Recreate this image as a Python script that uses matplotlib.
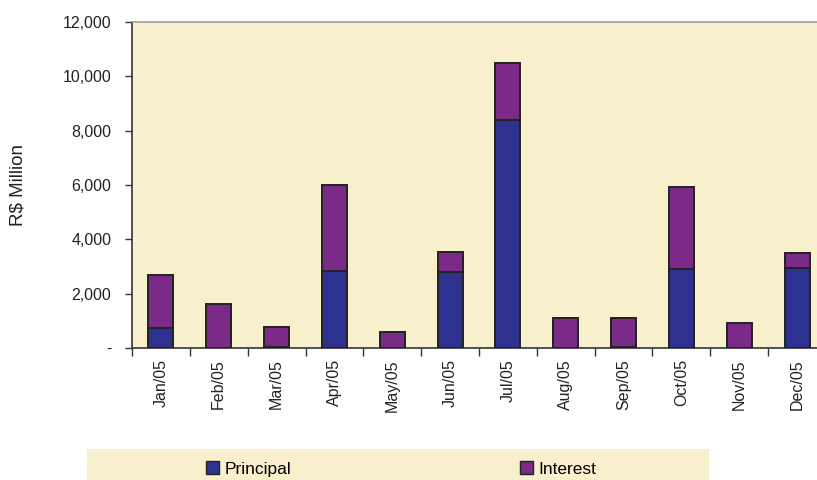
import matplotlib
matplotlib.use("Agg")
from matplotlib import pyplot as plt
from matplotlib.patches import Rectangle, Patch
from matplotlib.ticker import FuncFormatter
import numpy as np

months = ["Jan/05", "Feb/05", "Mar/05", "Apr/05", "May/05", "Jun/05",
          "Jul/05", "Aug/05", "Sep/05", "Oct/05", "Nov/05", "Dec/05"]
principal = [750, 0, 50, 2850, 0, 2790, 8380, 0, 50, 2920, 0, 2960]
interest = [1930, 1630, 710, 3150, 590, 760, 2110, 1100, 1050, 3010, 930, 530]

bg = "#F8F0CC"
c_principal = "#2E3190"
c_interest = "#7B2A88"

plt.rcParams['font.family'] = ['Liberation Sans', 'DejaVu Sans']

fig = plt.figure(figsize=(8.17, 4.8), dpi=100)
ax = fig.add_axes([132 / 817, 1 - 348 / 480, 694 / 817, 326 / 480])
ax.set_facecolor(bg)

x = np.arange(len(months))
ax.bar(x, principal, width=0.43, color=c_principal, edgecolor="#222222", linewidth=1.4, zorder=3)
ax.bar(x, interest, width=0.43, bottom=principal, color=c_interest, edgecolor="#222222", linewidth=1.4, zorder=3)

ax.set_xlim(-0.5, len(months) - 0.5)
ax.set_ylim(0, 12000)
ax.set_yticks(range(0, 12001, 2000))
ax.yaxis.set_major_formatter(FuncFormatter(lambda v, p: "-" if v == 0 else f"{int(v):,}"))
ax.tick_params(axis='y', length=5, width=1, color="#333333", pad=10, labelsize=11.5, labelcolor="#222222")

ax.set_xticks(x)
ax.set_xticklabels(months, rotation=90)
ax.set_xticks(np.arange(-0.5, len(months) - 0.4, 1), minor=True)
ax.tick_params(axis='x', which='major', length=0, pad=8, labelsize=11.5, labelcolor="#222222")
ax.tick_params(axis='x', which='minor', length=6, width=1, color="#333333")

ax.spines['left'].set_color("#333333")
ax.spines['left'].set_linewidth(1.2)
ax.spines['bottom'].set_color("#333333")
ax.spines['bottom'].set_linewidth(1.2)
ax.spines['top'].set_color("#A0A0A0")
ax.spines['top'].set_linewidth(1.2)
ax.spines['right'].set_visible(False)

fig.text(18 / 817, 1 - 185 / 480, "R$ Million", rotation=90, ha='center', va='center',
         fontsize=13.5, color="#222222")

# legend band
fig.patches.append(Rectangle((87 / 817, 0), (709 - 87) / 817, 31 / 480,
                             transform=fig.transFigure, facecolor=bg, edgecolor='none', zorder=0))
leg_font = ['Liberation Sans Narrow', 'Liberation Sans', 'DejaVu Sans']
for label, color, xpos in [("Principal", c_principal, 206), ("Interest", c_interest, 520)]:
    fig.legend(handles=[Patch(facecolor=color, edgecolor="#222222", linewidth=1)], labels=[label],
               loc='center left', bbox_to_anchor=(xpos / 817, 1 - 469 / 480), frameon=False,
               handlelength=0.75, handleheight=0.75, handletextpad=0.3, borderpad=0, borderaxespad=0,
               prop={'family': leg_font, 'size': 12.5})

plt.savefig('out.png', dpi=100)
